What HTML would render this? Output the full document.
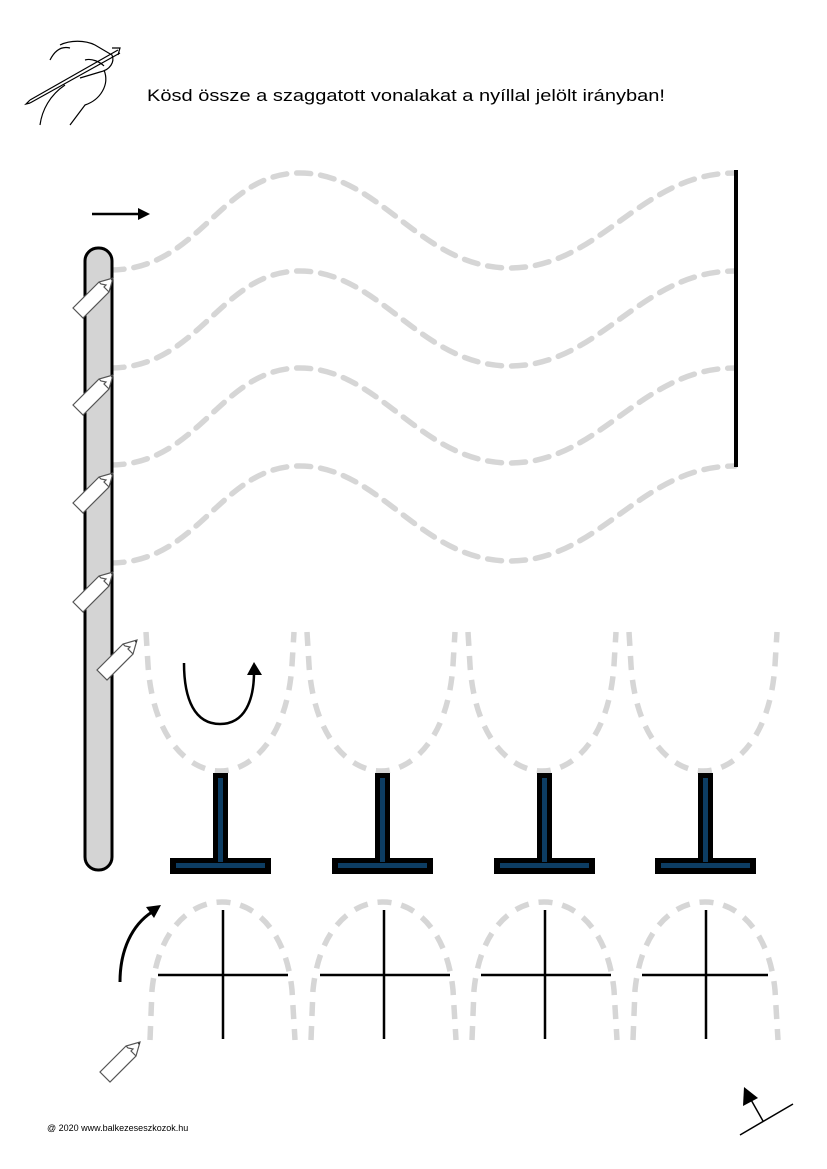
<!DOCTYPE html>
<html><head><meta charset="utf-8"><style>html,body{margin:0;padding:0;background:#fff}svg{display:block}</style></head>
<body>
<svg width="827" height="1169" viewBox="0 0 827 1169" xmlns="http://www.w3.org/2000/svg">
<defs>
<g id="pencil">
<path d="M0,0 L-4,14 L-30,40 L-40,30 L-14,4 Z" fill="#fff" stroke="#555" stroke-width="1.2"/>
<path d="M-4,14 L-9,9 L-7,7 L-12,6 L-14,4" fill="none" stroke="#555" stroke-width="1.2"/>
<circle cx="-1" cy="1.5" r="1" fill="#333"/>
</g>
</defs>

<!-- hand icon -->
<g fill="none" stroke="#000" stroke-width="1.2">
<path d="M30,100 L118,50"/><path d="M30,103 L120,53"/>
<path d="M30,100 L26,104 L30,103"/>
<path d="M60,45 C70,40 85,40 95,45 L112,55 C115,62 110,70 100,72 L80,78"/>
<path d="M50,60 C55,50 62,46 70,48"/>
<path d="M85,60 C92,58 100,62 104,66"/>
<path d="M104,70 C110,85 100,100 85,105 L70,125"/>
<path d="M40,125 C42,110 50,95 65,85"/>
<path d="M112,48 L120,48 L118,55"/>
</g>

<text x="147" y="101" font-family="Liberation Sans, sans-serif" font-size="17" textLength="518" lengthAdjust="spacingAndGlyphs">Kösd össze a szaggatott vonalakat a nyíllal jelölt irányban!</text>

<!-- top arrow -->
<line x1="92" y1="214" x2="140" y2="214" stroke="#000" stroke-width="2.5"/>
<path d="M150,214 L138,208 L138,220 Z" fill="#000"/>

<!-- waves -->
<g fill="none" stroke="#d6d6d6" stroke-width="5.5" stroke-dasharray="14 10" stroke-linecap="round">
<path d="M110,270 C200,270 220,173 300,173 C380,173 420,268 510,268 C600,268 640,173 735,173"/>
<path d="M110,368 C200,368 220,271 300,271 C380,271 420,366 510,366 C600,366 640,271 735,271"/>
<path d="M110,465 C200,465 220,368 300,368 C380,368 420,463 510,463 C600,463 640,368 735,368"/>
<path d="M110,563 C200,563 220,466 300,466 C380,466 420,561 510,561 C600,561 640,466 735,466"/>
</g>
<line x1="736" y1="170" x2="736" y2="467" stroke="#000" stroke-width="4"/>

<!-- left bar -->
<rect x="85" y="248" width="27" height="622" rx="13" fill="#d4d4d4" stroke="#000" stroke-width="3"/>

<!-- U arches -->
<g fill="none" stroke="#d6d6d6" stroke-width="5.5" stroke-dasharray="14 10">
<path d="M146,632 L148,665 C153,740 190,771 220,771 C250,771 287,740 292,665 L294,632"/>
<path d="M307,632 L309,665 C314,740 351,771 381,771 C411,771 448,740 453,665 L455,632"/>
<path d="M468,632 L470,665 C475,740 512,771 542,771 C572,771 609,740 614,665 L616,632"/>
<path d="M629,632 L631,665 C636,740 673,771 703,771 C733,771 770,740 775,665 L777,632"/>
</g>

<!-- U arrow -->
<path d="M184,663 C184,700 195,724 220,724 C245,724 254,700 254,672" fill="none" stroke="#000" stroke-width="2.5"/>
<path d="M254,662 L247,675 L262,675 Z" fill="#000"/>

<!-- T shapes -->
<g>
<g id="T">
<rect x="213" y="773" width="15" height="90" fill="#000"/>
<rect x="170" y="858" width="101" height="16" fill="#000"/>
<rect x="218" y="778" width="5" height="84" fill="#0d3d63"/>
<rect x="176" y="863" width="89" height="5" fill="#0d3d63"/>
</g>
<use href="#T" x="162"/>
<use href="#T" x="324"/>
<use href="#T" x="485"/>
</g>

<!-- lower arches -->
<g fill="none" stroke="#d6d6d6" stroke-width="5.5" stroke-dasharray="14 10">
<path d="M150,1040 L152,990 C158,930 190,902 222,902 C254,902 286,930 292,990 L295,1040"/>
<path d="M311,1040 L313,990 C319,930 351,902 383,902 C415,902 447,930 453,990 L456,1040"/>
<path d="M472,1040 L474,990 C480,930 512,902 544,902 C576,902 608,930 614,990 L617,1040"/>
<path d="M633,1040 L635,990 C641,930 673,902 705,902 C737,902 769,930 775,990 L778,1040"/>
</g>
<g stroke="#000" stroke-width="2.5">
<line x1="158" y1="975" x2="288" y2="975"/><line x1="223" y1="910" x2="223" y2="1039"/>
<line x1="320" y1="975" x2="450" y2="975"/><line x1="384" y1="910" x2="384" y2="1039"/>
<line x1="481" y1="975" x2="611" y2="975"/><line x1="545" y1="910" x2="545" y2="1039"/>
<line x1="642" y1="975" x2="768" y2="975"/><line x1="706" y1="910" x2="706" y2="1039"/>
</g>

<!-- curved arrow -->
<path d="M120,982 C120,950 132,925 152,912" fill="none" stroke="#000" stroke-width="3"/>
<path d="M161,905 L146,907 L154,918 Z" fill="#000"/>

<!-- pencils -->
<use href="#pencil" x="113" y="278"/>
<use href="#pencil" x="113" y="375"/>
<use href="#pencil" x="113" y="473"/>
<use href="#pencil" x="113" y="572"/>
<use href="#pencil" x="137" y="640"/>
<use href="#pencil" x="140" y="1042"/>

<!-- bottom right symbol -->
<line x1="740" y1="1135" x2="793" y2="1104" stroke="#000" stroke-width="1.5"/>
<line x1="763" y1="1121" x2="750" y2="1098" stroke="#000" stroke-width="1.5"/>
<path d="M744,1087 L743,1106 L758,1098 Z" fill="#000"/>

<text x="47" y="1131" font-family="Liberation Sans, sans-serif" font-size="9">@ 2020 www.balkezeseszkozok.hu</text>
</svg>
</body></html>
